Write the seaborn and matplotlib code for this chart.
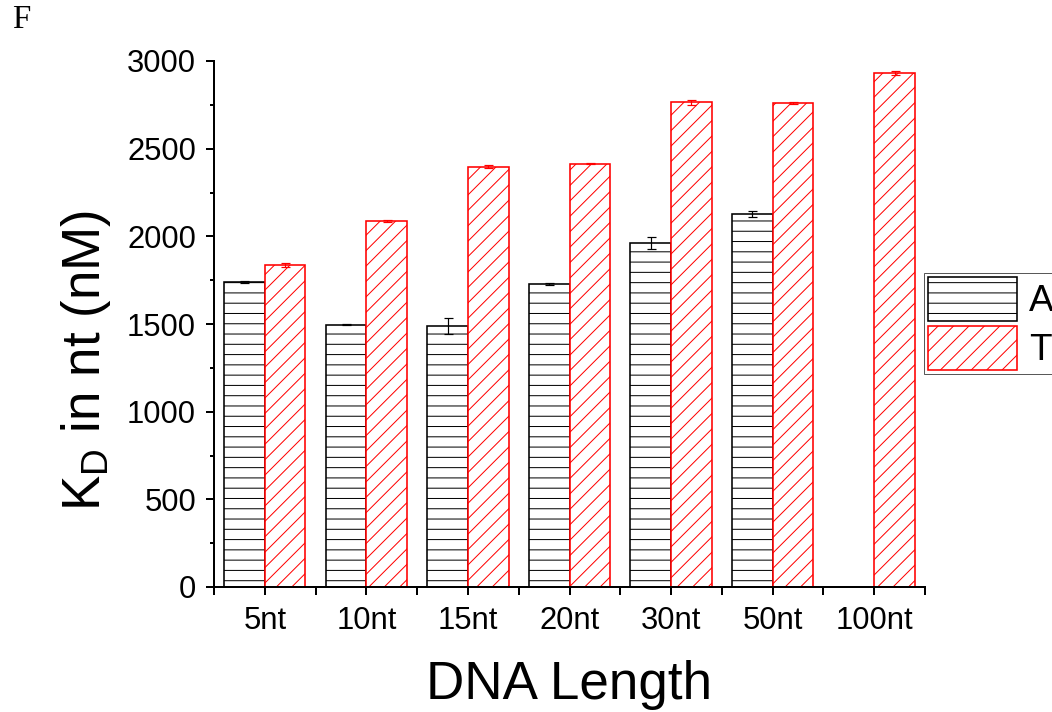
import numpy as np
import pandas as pd
import matplotlib
matplotlib.use("Agg")
import matplotlib.pyplot as plt
import seaborn as sns
from matplotlib.patches import Patch
from matplotlib.ticker import MultipleLocator, FixedLocator

# ---------------- data ----------------
categories = ["5nt", "10nt", "15nt", "20nt", "30nt", "50nt", "100nt"]
series_names = ["A", "T"]
a_values = [1740, 1495, 1487, 1728, 1962, 2129, np.nan]
a_errors = [6, 3, 45, 3, 35, 17, np.nan]
t_values = [1837, 2088, 2398, 2414, 2765, 2762, 2930]
t_errors = [13, 6, 11, 4, 14, 5, 12]
y_ticks_major = 500
y_ticks_minor = 250

# ---------------- setup ----------------
DPI = 185
P = 72.0 / DPI  # pixel -> point

sns.set_style("ticks")
plt.rcParams["font.family"] = ["Liberation Sans", "DejaVu Sans"]
plt.rcParams["mathtext.default"] = "regular"
plt.rcParams["hatch.linewidth"] = 1.0 * P
for key in ["text.color", "axes.labelcolor", "xtick.color", "ytick.color",
            "xtick.labelcolor", "ytick.labelcolor", "axes.edgecolor"]:
    plt.rcParams[key] = "black"

df = pd.DataFrame({
    "length": categories * 2,
    "base": ["A"] * len(categories) + ["T"] * len(categories),
    "kd": a_values + t_values,
}).dropna()

fig = plt.figure(figsize=(1052 / DPI, 712 / DPI), dpi=DPI)
fig.patch.set_facecolor("white")
ax = fig.add_axes([214 / 1052, (712 - 587) / 712, (925 - 214) / 1052, (587 - 61) / 712])

sns.barplot(data=df, x="length", y="kd", hue="base", order=categories,
            hue_order=series_names, palette={"A": "white", "T": "white"},
            errorbar=None, width=0.8, saturation=1, legend=False, ax=ax)

styles = {"A": ("black", "---"), "T": ("red", "////")}
errs = {"A": a_errors, "T": t_errors}
for cont, base in zip(ax.containers, series_names):
    color, hatch = styles[base]
    xs, ys, es = [], [], []
    for p in cont.patches:
        h = p.get_height()
        if not np.isfinite(h):
            continue
        p.set_facecolor("white")
        p.set_hatch(hatch)
        p.set_edgecolor(color)
        p.set_linewidth(1.6 * P)
        cx = p.get_x() + p.get_width() / 2
        idx = int(round(cx))
        xs.append(cx)
        ys.append(h)
        es.append(errs[base][idx])
    ax.errorbar(xs, ys, yerr=es, fmt="none", ecolor=color, elinewidth=1.2 * P,
                capsize=4.5 * P, capthick=1.2 * P, zorder=5)

ax.set_xlim(-0.5, len(categories) - 0.5)
ax.set_ylim(0, 3000)
ax.yaxis.set_major_locator(MultipleLocator(y_ticks_major))
ax.yaxis.set_minor_locator(MultipleLocator(y_ticks_minor))
ax.xaxis.set_minor_locator(FixedLocator(np.arange(-0.5, len(categories), 1.0)))

sns.despine(ax=ax)
for s in ["left", "bottom"]:
    ax.spines[s].set_linewidth(2 * P)
    ax.spines[s].set_color("black")

ax.tick_params(axis="both", which="both", direction="out", width=2 * P, color="black")
ax.tick_params(axis="y", which="major", length=8 * P, pad=10 * P, labelsize=31 * P)
ax.tick_params(axis="y", which="minor", length=4 * P)
ax.tick_params(axis="x", which="both", length=8 * P)
ax.tick_params(axis="x", which="major", pad=11 * P, labelsize=31 * P)

ax.set_xlabel("DNA Length", fontsize=53 * P)
ax.set_ylabel(r"K$_\mathregular{D}$ in nt (nM)", fontsize=53 * P)
ax.xaxis.set_label_coords(0.5, -0.139)
ax.yaxis.set_label_coords(-0.142, 0.43)

handles = [
    Patch(facecolor="white", edgecolor="black", hatch="---", linewidth=1.6 * P),
    Patch(facecolor="white", edgecolor="red", hatch="////", linewidth=1.6 * P),
]
leg = fig.legend(handles, series_names, loc="upper left",
                 bbox_to_anchor=(924 / 1052, (712 - 273) / 712),
                 frameon=True, fancybox=False, edgecolor="0.35", framealpha=1,
                 fontsize=37 * P, handlelength=2.4, handleheight=1.45,
                 handletextpad=0.32, borderpad=0.11, labelspacing=0.135,
                 borderaxespad=0)
leg.get_frame().set_linewidth(1.0 * P)

fig.text(12 / 1052, 1 - 5 / 712, "F", family=["Liberation Serif", "DejaVu Serif"],
         fontsize=33 * P, va="top", ha="left")

fig.savefig("out.png", dpi=DPI, facecolor="white")
